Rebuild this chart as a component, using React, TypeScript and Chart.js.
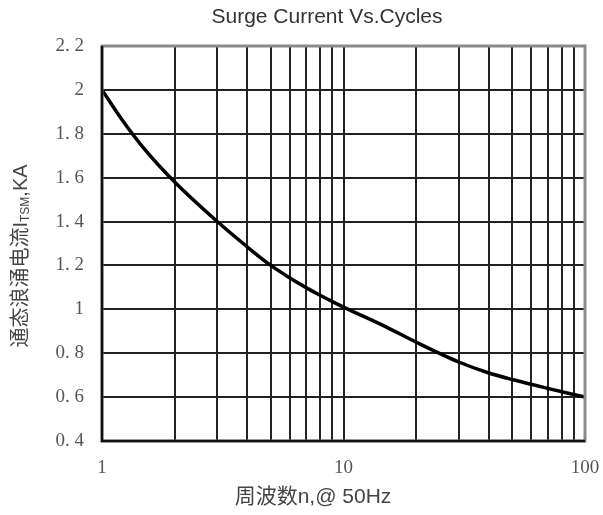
import React, { useEffect, useRef } from "react";
import { Chart, registerables } from "chart.js";

Chart.register(...registerables);

const cycles = [1, 1.2, 1.5, 2, 3, 4, 5, 6, 7, 8, 9, 10, 15, 20, 30, 40, 50, 70, 100];
const surgeKA = [2.0, 1.87, 1.73, 1.58, 1.4, 1.284, 1.2, 1.143, 1.099, 1.064, 1.035, 1.01, 0.92, 0.85, 0.76, 0.71, 0.68, 0.64, 0.6];
const yTickValues = [0.4, 0.6, 0.8, 1.0, 1.2, 1.4, 1.6, 1.8, 2.0, 2.2];
const yTickLabels = ["0. 4", "0. 6", "0. 8", "1", "1. 2", "1. 4", "1. 6", "1. 8", "2", "2. 2"];
const xTickValues = [1, 2, 3, 4, 5, 6, 7, 8, 9, 10, 20, 30, 40, 50, 60, 70, 80, 90, 100];
const xTickLabels: Record<number, string> = { 1: "1", 10: "10", 100: "100" };
const titleText = "Surge Current Vs.Cycles";
const xTitleText = "周波数n,@ 50Hz";
const yTitleMain = "通态浪涌电流I";
const yTitleSub = "TSM";
const yTitleEnd = ",KA";

const textPlugin = {
  id: "customText",
  afterDraw(chart: any) {
    const ctx = chart.ctx;
    const a = chart.chartArea;
    ctx.save();
    // border
    ctx.strokeStyle = "#8a8a8a";
    ctx.lineWidth = 3;
    ctx.strokeRect(a.left, a.top, a.right - a.left, a.bottom - a.top);
    ctx.strokeStyle = "#111";
    ctx.lineWidth = 2.5;
    ctx.beginPath();
    ctx.moveTo(a.left, a.top);
    ctx.lineTo(a.left, a.bottom);
    ctx.lineTo(a.right, a.bottom);
    ctx.stroke();

    ctx.fillStyle = "#333";
    ctx.textBaseline = "middle";
    ctx.textAlign = "center";
    ctx.font = "21px 'Liberation Sans', Arial, sans-serif";
    ctx.fillText(titleText, 327, 17);

    ctx.fillStyle = "#444";
    ctx.font = "21px 'Liberation Sans', 'Noto Sans CJK SC', sans-serif";
    ctx.fillText(xTitleText, 313, 497);

    // y title rotated with subscript
    ctx.translate(21, 256);
    ctx.rotate(-Math.PI / 2);
    const mainFont = "20px 'Liberation Sans', 'Noto Sans CJK SC', sans-serif";
    const subFont = "12px 'Liberation Sans', Arial, sans-serif";
    ctx.font = mainFont;
    const w1 = ctx.measureText(yTitleMain).width;
    const w3 = ctx.measureText(yTitleEnd).width;
    ctx.font = subFont;
    const w2 = ctx.measureText(yTitleSub).width;
    const total = w1 + w2 + w3;
    let x = -total / 2;
    ctx.textAlign = "left";
    ctx.font = mainFont;
    ctx.fillText(yTitleMain, x, 0);
    x += w1;
    ctx.font = subFont;
    ctx.fillText(yTitleSub, x, 5);
    x += w2;
    ctx.font = mainFont;
    ctx.fillText(yTitleEnd, x, 0);
    ctx.restore();
  },
};

export default function App() {
  const ref = useRef<HTMLCanvasElement | null>(null);
  useEffect(() => {
    document.body.style.margin = "0";
    if (!ref.current) return;
    const chart = new Chart(ref.current, {
      type: "line",
      data: {
        datasets: [
          {
            data: cycles.map((c, i) => ({ x: c, y: surgeKA[i] })),
            borderColor: "#000",
            borderWidth: 3.5,
            pointRadius: 0,
            fill: false,
            cubicInterpolationMode: "monotone",
          },
        ],
      },
      options: {
        animation: false,
        responsive: false,
        maintainAspectRatio: false,
        layout: { padding: { left: 0, right: 18, top: 46, bottom: 0 } },
        plugins: { legend: { display: false }, title: { display: false }, tooltip: { enabled: false } },
        scales: {
          x: {
            type: "logarithmic",
            min: 1,
            max: 100,
            afterBuildTicks: (s: any) => {
              s.ticks = xTickValues.map((v) => ({ value: v }));
            },
            afterFit: (s: any) => {
              s.height = 74;
              s.paddingLeft = 0;
              s.paddingRight = 0;
            },
            ticks: {
              autoSkip: false,
              maxRotation: 0,
              padding: 16,
              color: "#555",
              font: { family: "'Liberation Serif', 'DejaVu Serif', serif", size: 19 },
              callback: (v: any) => xTickLabels[Number(v)] ?? "",
            },
            grid: { color: "#222", lineWidth: 2, drawTicks: false },
            border: { display: false },
          },
          y: {
            type: "linear",
            min: 0.4,
            max: 2.2,
            afterBuildTicks: (s: any) => {
              s.ticks = yTickValues.map((v) => ({ value: v }));
            },
            afterFit: (s: any) => {
              s.width = 102;
              s.paddingTop = 0;
              s.paddingBottom = 0;
            },
            ticks: {
              padding: 18,
              color: "#555",
              font: { family: "'Liberation Serif', 'DejaVu Serif', serif", size: 19 },
              callback: (v: any) => {
                const i = yTickValues.findIndex((t) => Math.abs(t - Number(v)) < 1e-6);
                return i >= 0 ? yTickLabels[i] : "";
              },
            },
            grid: { color: "#222", lineWidth: 2, drawTicks: false },
            border: { display: false },
          },
        },
      },
      plugins: [textPlugin],
    } as any);
    return () => chart.destroy();
  }, []);
  return (
    <div style={{ width: 603, height: 515, background: "#fff" }}>
      <canvas ref={ref} width={603} height={515} style={{ display: "block" }} />
    </div>
  );
}
